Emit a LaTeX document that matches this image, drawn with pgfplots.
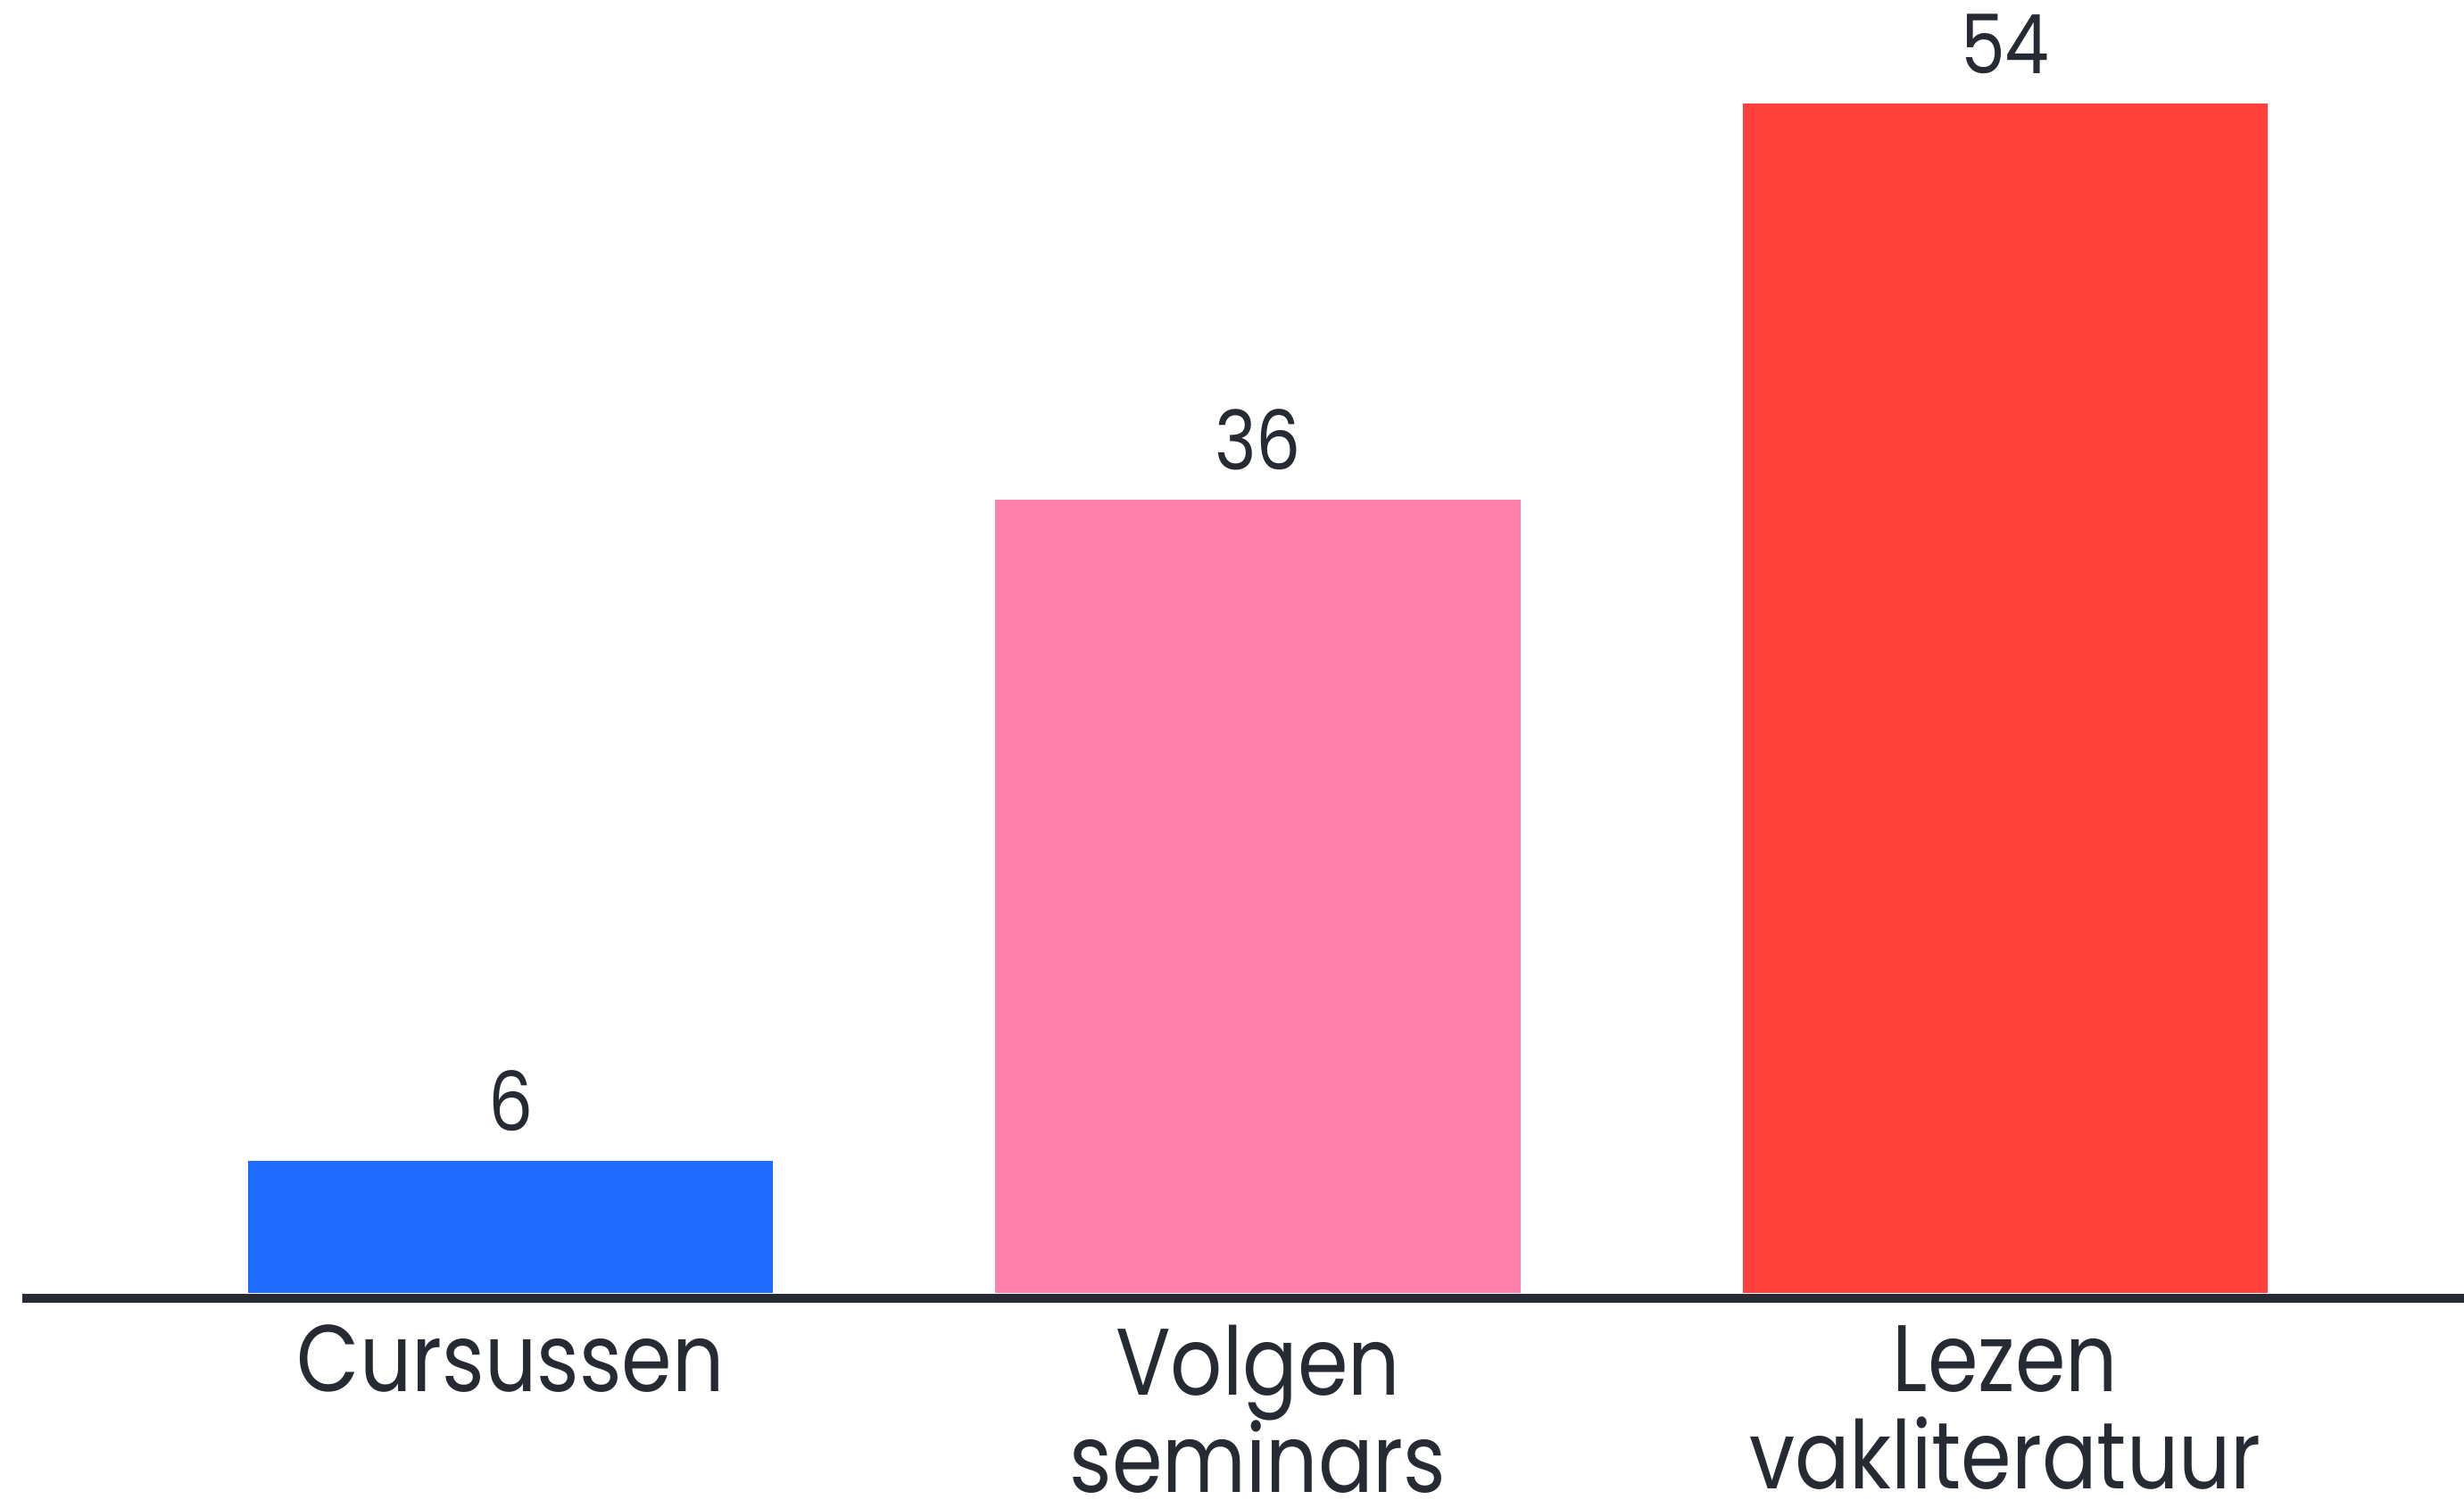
\documentclass[border=0pt]{standalone}
\usepackage{pgfplots}
\pgfplotsset{compat=1.18}
\usepackage{fontspec}
\setmainfont{Poppins}[FakeStretch=0.86]
\definecolor{cblue}{HTML}{1F6BFF}
\definecolor{cpink}{HTML}{FF80AA}
\definecolor{cred}{HTML}{FF403B}
\definecolor{ctext}{HTML}{262A33}
\newcommand\lblfont{\fontsize{26.5}{27.3}\selectfont\setlength{\lineskiplimit}{-100pt}}
\begin{document}
\begin{tikzpicture}
\begin{axis}[
  scale only axis,
  width=684pt, height=363.75pt,
  xmin=-0.6535, xmax=2.614,
  ymin=-0.25, ymax=58.68,
  axis x line*=bottom,
  hide y axis,
  axis line style={line width=2.5pt, color=ctext, -},
  xtick={0,1,2},
  xticklabels={Cursussen, Volgen\\seminars, Lezen\\vakliteratuur},
  major tick length=0pt,
  xticklabel style={font=\lblfont, text=ctext, align=center, anchor=north, yshift=-4pt},
  ybar, bar width=0.7025, bar shift=0pt,
  nodes near coords,
  /pgf/number format/assume math mode=true,
  every node near coord/.append style={font=\fontsize{23}{23}\selectfont, text=ctext, anchor=base, inner sep=0pt, yshift=8.25pt},
  clip=false,
]
\addplot[fill=cblue, draw=none] coordinates {(0,6)};
\addplot[fill=cpink, draw=none] coordinates {(1,36)};
\addplot[fill=cred, draw=none] coordinates {(2,54)};
\end{axis}
\pgfresetboundingbox
\path[use as bounding box] (current axis.south west) ++(-6.25pt,-58.75pt) rectangle (current axis.north east);
\end{tikzpicture}
\end{document}
